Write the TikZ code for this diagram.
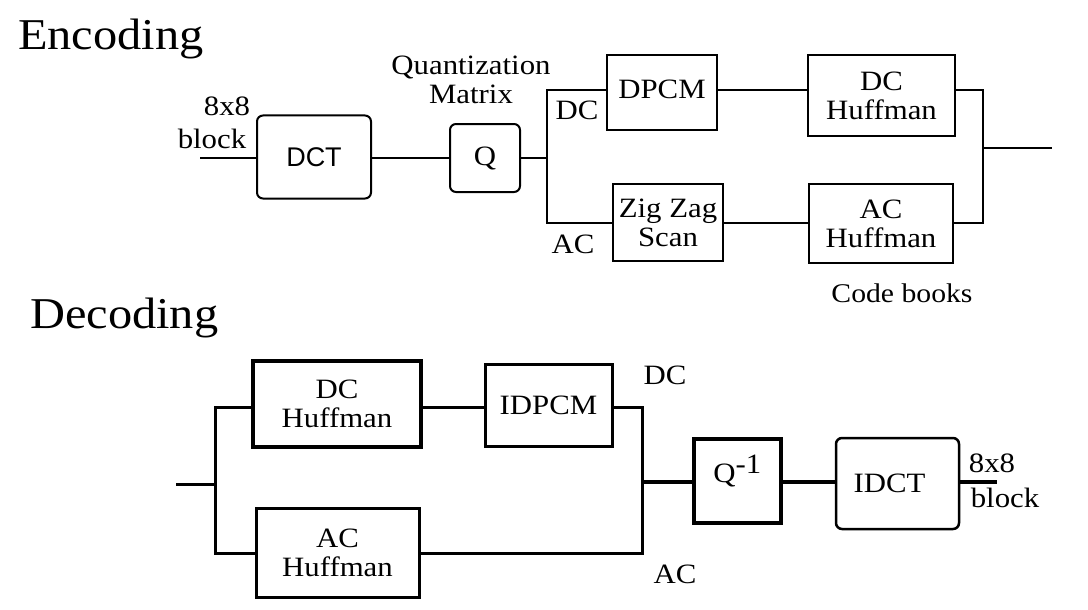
\documentclass[tikz,border=0pt]{standalone}
\usepackage{fontspec}
\setmainfont{Liberation Serif}[FakeStretch=1.1]
\newfontfamily\arialf{Liberation Sans}
\begin{document}
\begin{tikzpicture}[x=1pt,y=-1pt,
  every node/.style={inner sep=0pt},
  txt/.style={font=\fontsize{28}{29}\selectfont, align=center},
  big/.style={font=\fontsize{44}{48}\selectfont, anchor=base west},
  ebox/.style={draw, line width=2pt, txt},
  rbox/.style={ebox, rounded corners=6pt},
  wire/.style={line width=2pt},
  dwire/.style={line width=3pt},
  twire/.style={line width=4.5pt}]
\useasboundingbox (0,0) rectangle (1088,610);
% ---------------- Encoding ----------------
\node[big] (enc) at (18,50) {Encoding};
\node[rbox, minimum width=114pt, minimum height=83pt, font=\arialf\fontsize{27}{28}\selectfont] (dct) at (314,157) {DCT};
\node[rbox, minimum width=70pt, minimum height=68pt] (q) at (485,158) {Q};
\node[ebox, minimum width=110pt, minimum height=75pt] (dpcm) at (662,92.5) {\raisebox{3pt}[\height][\depth]{DPCM}};
\node[ebox, minimum width=147pt, minimum height=81pt] (dch) at (881.5,95.5) {DC\\Huffman};
\node[ebox, minimum width=110pt, minimum height=77pt] (zz) at (668,222.5) {Zig Zag\\Scan};
\node[ebox, minimum width=144pt, minimum height=79pt] (ach) at (881,223.5) {AC\\Huffman};
\node[txt] (l88) at (227,106) {8x8};
\node[txt] (lblock) at (212,139) {block};
\node[txt] (lqm) at (471,80) {Quantization\\Matrix};
\node[txt] (ldc) at (577,110) {DC};
\node[txt] (lac) at (573,244) {AC};
\node[txt, font=\fontsize{27}{28}\selectfont] (lcb) at (902,293) {Code books};
\coordinate (in) at (200,158);
\coordinate (bt) at (547,90);
\coordinate (bb) at (547,223);
\coordinate (ot) at (983,90);
\coordinate (ob) at (983,223);
\coordinate (om) at (983,148);
\coordinate (out) at (1052,148);
\draw[wire] (in) -- (in -| dct.west);
\draw[wire] (dct.east |- in) -- (in -| q.west);
\draw[wire] (q.east |- in) -- (in -| bt);
\draw[wire] (bt -| dpcm.west) -- (bt) -- (bb) -- (bb -| zz.west);
\draw[wire] (bt -| dpcm.east) -- (bt -| dch.west);
\draw[wire] (bb -| zz.east) -- (bb -| ach.west);
\draw[wire] (ot -| dch.east) -- (ot) -- (ob) -- (ob -| ach.east);
\draw[wire] (om) -- (out);
% ---------------- Decoding ----------------
\node[big] (dec) at (30,328) {Decoding};
\node[ebox, line width=4pt, minimum width=168pt, minimum height=86pt] (ddch) at (337,404) {DC\\Huffman};
\node[ebox, line width=3pt, minimum width=127pt, minimum height=82pt] (idpcm) at (548.5,405) {IDPCM};
\node[ebox, line width=3pt, minimum width=163pt, minimum height=89pt] (dach) at (337.5,552.5) {AC\\Huffman};
\node[ebox, line width=4pt, minimum width=87pt, minimum height=84pt] (qi) at (737.5,481) {\raisebox{10pt}[\height][\depth]{Q$^{\textrm{-1}}$}};
\node[rbox, line width=2.5pt, minimum width=123pt, minimum height=91pt] (idct) at (897.5,483.5) {IDCT\hspace{16pt}};
\node[txt] (ddc) at (665,375) {DC};
\node[txt] (dac) at (675,574) {AC};
\node[txt] (d88) at (992,463) {8x8};
\node[txt] (dblock) at (1005,498) {block};
\coordinate (din) at (176,484);
\coordinate (lt) at (215,407);
\coordinate (lb) at (215,553);
\coordinate (rt) at (642,407);
\coordinate (rb) at (642,553);
\coordinate (rm) at (642,482);
\coordinate (dout) at (997,482);
\draw[dwire] (din) -- (din -| lt);
\draw[dwire] (lt -| ddch.west) -- (lt) -- (lb) -- (lb -| dach.west);
\draw[dwire] (lt -| ddch.east) -- (lt -| idpcm.west);
\draw[dwire] (rt -| idpcm.east) -- (rt) -- (rb) -- (rb -| dach.east);
\draw[twire] (rm) -- (rm -| qi.west);
\draw[twire] (qi.east |- rm) -- (rm -| idct.west);
\draw[twire] (idct.east |- rm) -- (dout);
\end{tikzpicture}
\end{document}
